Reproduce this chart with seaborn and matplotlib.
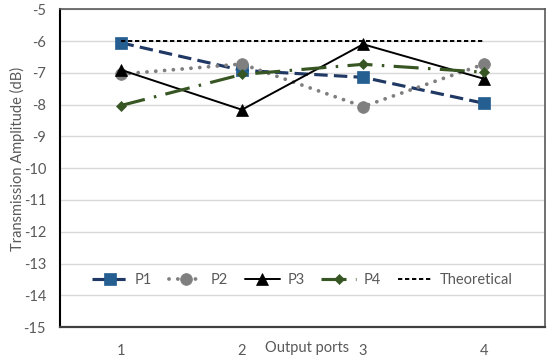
import pandas as pd
import seaborn as sns
import matplotlib.pyplot as plt

ports = [1, 2, 3, 4]
p1 = [-6.05, -6.92, -7.14, -7.96]
p2 = [-7.04, -6.72, -8.06, -6.72]
p3 = [-6.90, -8.16, -6.10, -7.19]
p4 = [-8.03, -7.05, -6.73, -6.98]
theoretical = [-6, -6, -6, -6]

sns.set_style("white")
plt.rcParams['font.family'] = ['Lato', 'DejaVu Sans']
plt.rcParams['axes.unicode_minus'] = False

fig, ax = plt.subplots(figsize=(5.5, 3.59), dpi=100)
fig.subplots_adjust(left=0.109, right=0.991, top=0.974, bottom=0.089)

# name, values, line colour, marker colour, marker, marker size, line width, dash pattern
series = [
    ("P1", p1, "#1F3864", "#255E91", "s", 8.5, 2.25, (0, (4.3, 2.0))),
    ("P2", p2, "#7F7F7F", "#7F7F7F", "o", 8.5, 2.75, (0, (0.01, 2.3))),
    ("P3", p3, "#000000", "#000000", "^", 9, 1.4, "-"),
    ("P4", p4, "#375623", "#375623", "D", 5.5, 2.25, (0, (8, 3, 0.8, 3))),
    ("Theoretical", theoretical, "#000000", "#000000", None, 0, 1.4, (0, (2.2, 1.4))),
]

for name, vals, col, mcol, mk, ms, lw, ls in series:
    df = pd.DataFrame({"port": ports, "val": vals})
    sns.lineplot(data=df, x="port", y="val", ax=ax, color=col, linewidth=lw,
                 linestyle=ls, marker=mk, markersize=ms, markerfacecolor=mcol,
                 markeredgecolor=mcol, markeredgewidth=0.5, label=name,
                 dash_capstyle="round" if name == "P2" else "butt")

ax.set_xlim(0.5, 4.5)
ax.set_ylim(-15, -5)
ax.set_xticks(ports)
ax.set_yticks(range(-15, -4))
ax.yaxis.grid(True, color="#D9D9D9", linewidth=1)
ax.set_axisbelow(True)
ax.tick_params(axis="both", length=0, labelsize=10.5, labelcolor="#595959")
ax.tick_params(axis="x", pad=12)
ax.tick_params(axis="y", pad=10)

for side in ["top", "right"]:
    ax.spines[side].set_color("#595959")
    ax.spines[side].set_linewidth(1.2)
ax.spines["left"].set_color("#000000")
ax.spines["left"].set_linewidth(1.5)
ax.spines["bottom"].set_color("#404040")
ax.spines["bottom"].set_linewidth(1.6)

ax.set_xlabel("Output ports", fontsize=10.5, color="#595959")
ax.xaxis.set_label_coords(0.51, -0.045)
ax.set_ylabel("Transmission Amplitude (dB)", fontsize=10.5, color="#595959")
ax.yaxis.set_label_coords(-0.072, 0.53)

leg = ax.legend(loc="center", bbox_to_anchor=(0.5, 0.148), ncol=5, frameon=False,
                fontsize=10.5, handlelength=2.4, columnspacing=1.15, handletextpad=0.5)
for t in leg.get_texts():
    t.set_color("#595959")

fig.savefig("out.png", dpi=100)
